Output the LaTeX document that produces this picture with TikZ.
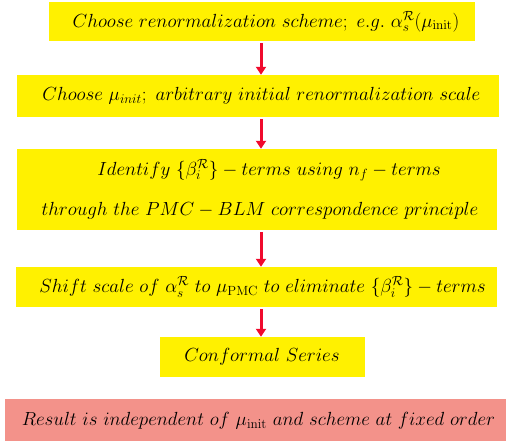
\RequirePackage{fix-cm}
\documentclass[tikz,border=0pt]{standalone}
\usetikzlibrary{arrows.meta}
\definecolor{boxyellow}{RGB}{255,241,0}
\definecolor{boxpink}{RGB}{243,146,138}
\definecolor{arrred}{RGB}{240,10,45}
\tikzset{
  txt/.style={font=\fontsize{19}{23}\selectfont, inner sep=0pt},
  ybox/.style={fill=boxyellow, draw=none, inner sep=0pt},
  pbox/.style={fill=boxpink, draw=none, inner sep=0pt},
  arr/.style={draw=arrred, line width=3pt, -{Triangle[width=10pt,length=8pt]}, shorten <=2pt}
}
\begin{document}
\begin{tikzpicture}[x=1pt,y=-1pt]
\useasboundingbox (0,0) rectangle (506,440);
\coordinate (ax) at (261,0);
\node[ybox, minimum width=426pt, minimum height=39pt] (b1) at (262,21.5) {};
\node[txt] (t1) at (266,21.5)
  {$Choose\ renormalization\ scheme;\ e.g.\ \alpha_s^{\mathcal{R}}(\mu_{\rm init})$};
\node[ybox, minimum width=482pt, minimum height=42pt] (b2) at (258,96) {};
\node[txt] (t2) at (261.5,96)
  {$Choose\ \mu_{init};\ arbitrary\ initial\ renormalization\ scale$};
\node[ybox, minimum width=480pt, minimum height=81pt] (b3) at (257,189.5) {};
\node[txt] (t3a) at (269,170)
  {$Identify\ \{\beta_i^{\mathcal{R}}\}-terms\ using\ n_f-terms$};
\node[txt] (t3b) at (260,211)
  {$through\ the\ PMC-BLM\ correspondence\ principle$};
\node[ybox, minimum width=481pt, minimum height=40pt] (b4) at (256.5,287) {};
\node[txt] (t4) at (262.5,287)
  {$Shift\ scale\ of\ \alpha_s^{\mathcal{R}}\ to\ \mu_{\rm PMC}\ to\ eliminate\ \{\beta_i^{\mathcal{R}}\}-terms$};
\node[ybox, minimum width=205pt, minimum height=40pt] (b5) at (262.5,357) {};
\node[txt] (t5) at (262,357) {$Conformal\ Series$};
\node[pbox, minimum width=503pt, minimum height=43pt] (b6) at (256.5,420.5) {};
\node[txt] (t6) at (258.5,420.5)
  {$Result\ is\ independent\ of\ \mu_{\rm init}\ and\ scheme\ at\ fixed\ order$};
\draw[arr] (b1.south -| ax) -- (b2.north -| ax);
\draw[arr] (b2.south -| ax) -- (b3.north -| ax);
\draw[arr] (b3.south -| ax) -- (b4.north -| ax);
\draw[arr] (b4.south -| ax) -- (b5.north -| ax);
\end{tikzpicture}
\end{document}
